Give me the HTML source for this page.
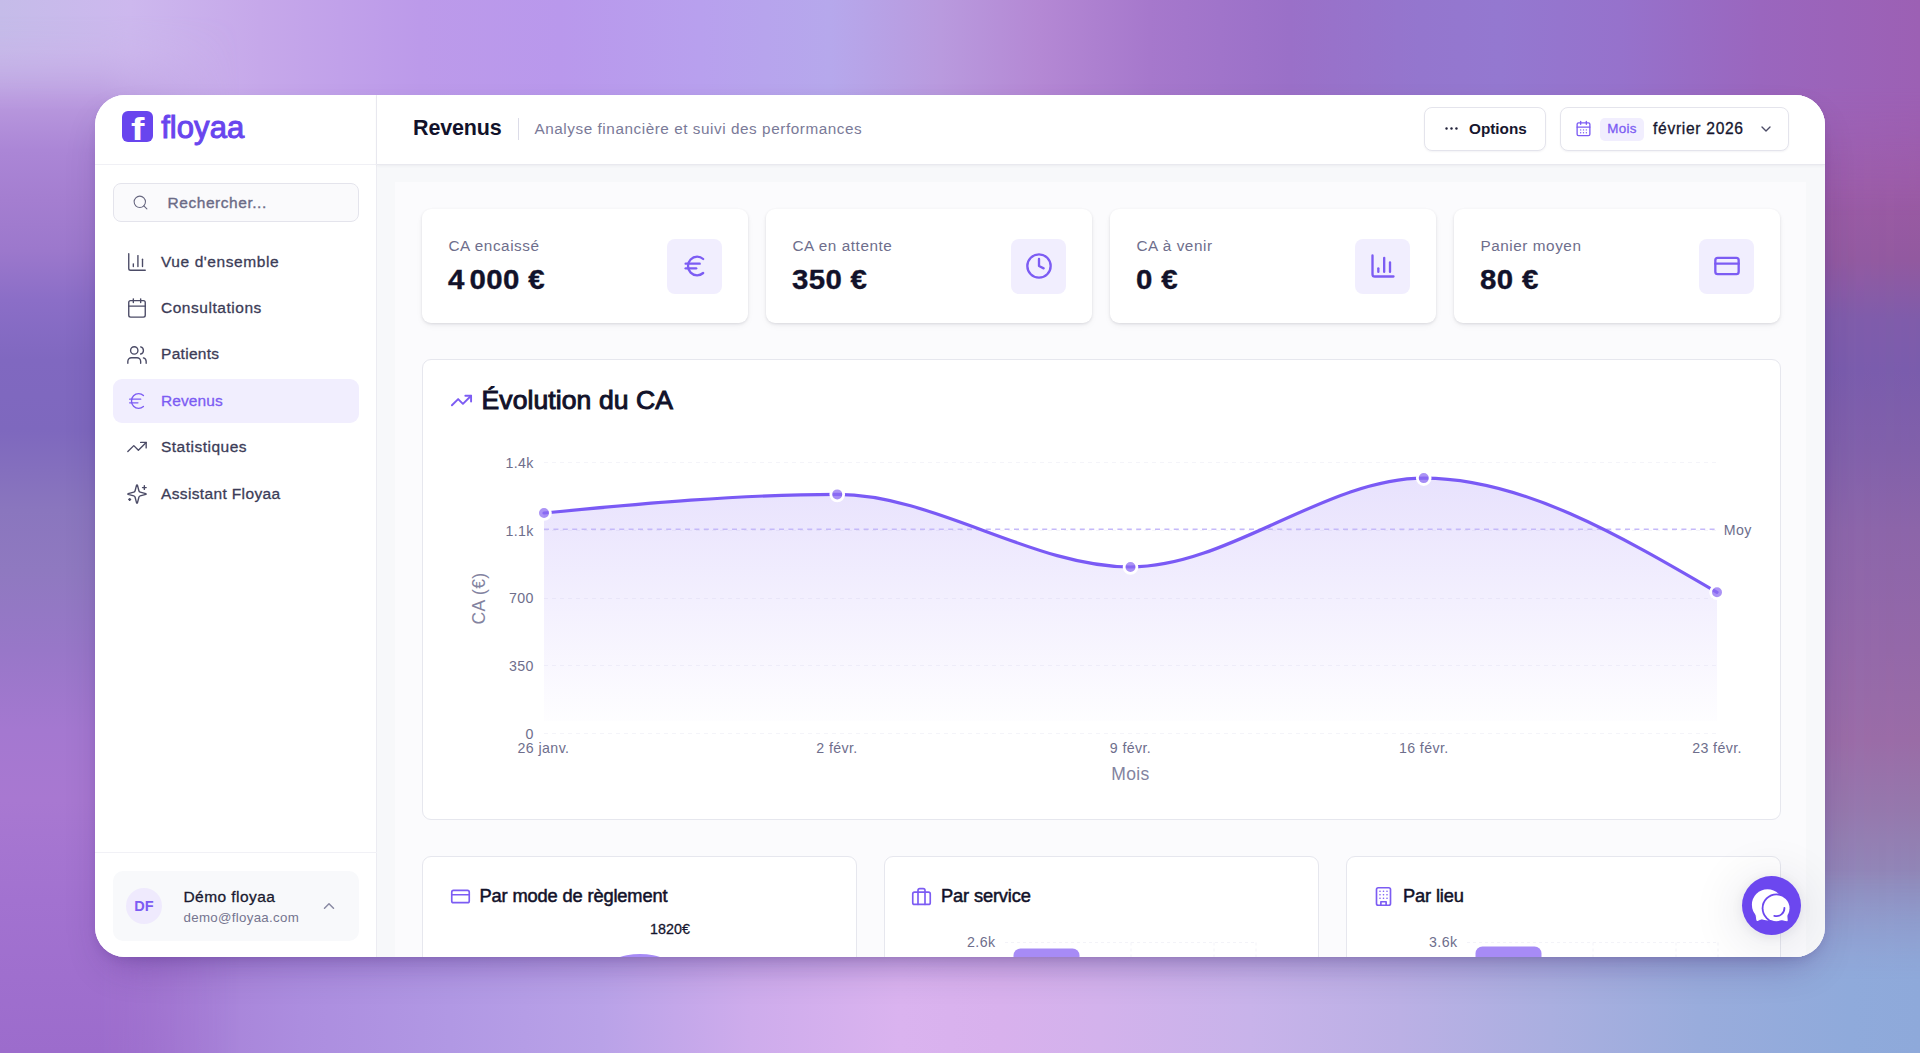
<!DOCTYPE html>
<html lang="fr">
<head>
<meta charset="utf-8">
<title>Revenus – floyaa</title>
<style>
*{box-sizing:border-box;margin:0;padding:0}
html,body{width:1920px;height:1053px;overflow:hidden}
body{position:relative;font-family:"Liberation Sans",sans-serif;color:#14142b;background:#a882d4}
.abs{position:absolute}
.bg{position:absolute;left:0;top:0;width:1920px;height:1053px}
#bgL{background:linear-gradient(180deg,#c4bbe9 0px,#c8b1e8 50px,#b999de 100px,#ab86d6 150px,#a47ed0 200px,#9c78cc 250px,#8b6ec7 300px,#8068c0 360px,#7e68be 430px,#8a76be 510px,#8f79c0 570px,#9877c8 650px,#a478d0 730px,#a878d1 800px,#a272d0 900px,#9c6ccc 1053px)}
#bgL2{background:linear-gradient(180deg,#c4bbe9 0px,#c8b1e8 50px,#b999de 100px,#ab86d6 150px,#a47ed0 200px,#9c78cc 250px,#8b6ec7 300px,#8068c0 360px,#7e68be 430px,#8a76be 510px,#8f79c0 570px,#9877c8 650px,#a478d0 730px,#a878d1 800px,#a272d0 900px,#9c6ccc 1053px);-webkit-mask-image:linear-gradient(90deg,#000 0,#000 100px,transparent 240px),linear-gradient(180deg,transparent 15px,#000 110px);mask-image:linear-gradient(90deg,#000 0,#000 100px,transparent 240px),linear-gradient(180deg,transparent 15px,#000 110px);-webkit-mask-composite:source-in;mask-composite:intersect}
#bgR{background:linear-gradient(180deg,#9c62b6 0px,#9e5cac 80px,#9c5aa4 180px,#92599f 260px,#7f5caa 320px,#7a5cac 370px,#8160aa 450px,#8c65a9 530px,#9468a8 650px,#9a6ca6 740px,#9578ac 810px,#9088b8 880px,#9099c9 960px,#90a8d8 1053px);-webkit-mask-image:linear-gradient(90deg,transparent 0,#000 100%);mask-image:linear-gradient(90deg,transparent 0,#000 100%)}
#bgT{background:linear-gradient(90deg,#c5bce9 0px,#cdb8ee 130px,#c6a8ea 260px,#bc9aea 420px,#b998ec 560px,#b8a0ee 700px,#b6a8ec 830px,#b99ade 940px,#b488d4 1040px,#a678cc 1150px,#9a70c8 1290px,#9476ce 1420px,#9478d0 1500px,#9672cc 1620px,#9a66be 1760px,#9c60b4 1920px);-webkit-mask-image:linear-gradient(180deg,#000 0,#000 85px,transparent 215px);mask-image:linear-gradient(180deg,#000 0,#000 85px,transparent 215px)}
#bgB{background:linear-gradient(90deg,#9c70cc 0px,#a57dd5 150px,#ac8ddf 300px,#b198e4 450px,#b9a2e8 600px,#ceacec 750px,#dab3ef 900px,#d8b1ed 1000px,#d3b2ec 1100px,#c8b3ea 1250px,#bbb0e5 1400px,#aaafe0 1550px,#99acdc 1700px,#8faadb 1850px,#8ea9da 1920px);-webkit-mask-image:linear-gradient(0deg,#000 0,#000 70px,transparent 185px);mask-image:linear-gradient(0deg,#000 0,#000 70px,transparent 185px)}
#win{left:95px;top:95px;width:1730px;height:862px;border-radius:30px;background:#fff;overflow:hidden;box-shadow:0 18px 40px -14px rgba(40,10,90,.3),0 5px 12px -5px rgba(40,10,90,.18)}
#side{left:0;top:0;width:282px;height:862px;background:#fff;border-right:1px solid #ececf2}
#main{left:282px;top:0;width:1448px;height:862px;background:#f7f8fa}
#head{left:0;top:0;width:1448px;height:70px;background:#fff;border-bottom:1px solid #e9e9ef;box-shadow:0 1px 3px rgba(20,20,60,.05)}
.t{position:absolute;white-space:nowrap;line-height:1}
.card{position:absolute;background:#fff;border-radius:9px}
.kpi{box-shadow:0 1px 3px rgba(20,20,40,.11),0 3px 8px -2px rgba(20,20,40,.07)}
.bcard{border:1px solid #e6e7ee}
.ibox{position:absolute;width:55px;height:55px;border-radius:8px;background:#f1eefe}
svg{position:absolute;overflow:visible}
.ic{fill:none;stroke:#4b4b66;stroke-width:1.5;stroke-linecap:round;stroke-linejoin:round}
.icv{fill:none;stroke:#7c5cf3;stroke-width:2;stroke-linecap:round;stroke-linejoin:round}
.nav{font-size:15.5px;color:#3c3c57;-webkit-text-stroke:.3px #3c3c57}
.lab{font-size:15.3px;color:#6e6e8c;letter-spacing:.55px}
.val{font-size:27px;font-weight:700;color:#12122a;letter-spacing:.3px;-webkit-text-stroke:.35px #12122a;transform-origin:0 50%}
.bt{font-size:18.3px;color:#12122a;-webkit-text-stroke:.5px #12122a;letter-spacing:-.15px}
.ax{letter-spacing:.4px;font-size:14.2px;fill:#6e6e8c;font-family:"Liberation Sans",sans-serif}
</style>
</head>
<body>
<div class="bg" id="bgL"></div><div class="bg" id="bgR"></div><div class="bg" id="bgT"></div><div class="bg" id="bgB"></div><div class="bg" id="bgL2"></div>
<div class="abs" id="win">
<div class="abs" id="pc" style="left:-95px;top:-95px;width:1920px;height:1053px">
<div class="abs" id="side" style="left:95px;top:95px"></div>
<div class="abs" style="left:95px;top:164px;width:282px;height:1.2px;background:#f0f0f5"></div>
<!-- logo -->
<div class="abs" style="left:122px;top:111px;width:31px;height:31px;border-radius:6px;background:#6845ee"></div>
<div class="t" id="logof" style="left:130.8px;top:128.7px;transform:translateY(-50%) scaleX(1.3);transform-origin:0 50%;font-size:31px;font-weight:700;color:#fff">f</div>
<div class="t" id="logot" style="left:161.2px;top:127px;transform:translateY(-50%);font-size:31px;color:#6845ee;-webkit-text-stroke:1px #6845ee;letter-spacing:.05px">floyaa</div>
<!-- search -->
<div class="abs" style="left:113px;top:183px;width:246px;height:39px;border-radius:8px;background:#fafafc;border:1px solid #e4e4ec"></div>
<svg class="ic" style="left:132px;top:194px;stroke:#66667f" width="17" height="17" viewBox="0 0 24 24"><circle cx="11" cy="11" r="8"/><path d="m21 21-4.3-4.3"/></svg>
<div class="t" id="srch" style="left:167.5px;top:202.5px;transform:translateY(-50%);font-size:15.5px;color:#6b6b86;-webkit-text-stroke:.35px #6b6b86;letter-spacing:.55px">Rechercher...</div>
<!-- nav -->
<div class="abs" style="left:113px;top:379px;width:246px;height:44px;border-radius:9px;background:#f1eefe"></div>
<svg class="ic" style="left:126.1px;top:251.0px" width="22" height="22" viewBox="0 0 24 24"><path d="M3 3v16a2 2 0 0 0 2 2h16"/><path d="M18 17V9"/><path d="M13 17V5"/><path d="M8 17v-3"/></svg>
<div class="t nav" style="left:161px;top:261.5px;transform:translateY(-50%);letter-spacing:0.58px">Vue d'ensemble</div>
<svg class="ic" style="left:126.1px;top:297.4px" width="22" height="22" viewBox="0 0 24 24"><path d="M8 2v4"/><path d="M16 2v4"/><rect width="18" height="18" x="3" y="4" rx="2"/><path d="M3 10h18"/></svg>
<div class="t nav" style="left:161px;top:308.0px;transform:translateY(-50%);letter-spacing:0.53px">Consultations</div>
<svg class="ic" style="left:126.1px;top:343.8px" width="22" height="22" viewBox="0 0 24 24"><path d="M16 21v-2a4 4 0 0 0-4-4H6a4 4 0 0 0-4 4v2"/><circle cx="9" cy="7" r="4"/><path d="M22 21v-2a4 4 0 0 0-3-3.87"/><path d="M16 3.13a4 4 0 0 1 0 7.75"/></svg>
<div class="t nav" style="left:161px;top:354.4px;transform:translateY(-50%);letter-spacing:0.30px">Patients</div>
<svg class="ic" style="left:126.1px;top:389.6px;stroke:#7c5cf3" width="22" height="22" viewBox="0 0 24 24"><path d="M4 10h12"/><path d="M4 14h9"/><path d="M19 6a7.7 7.7 0 0 0-5.2-2A7.9 7.9 0 0 0 6 12c0 4.400 3.500 8 7.800 8 2 0 3.800-.8 5.200-2"/></svg>
<div class="t nav" style="left:161px;top:400.9px;transform:translateY(-50%);letter-spacing:0.10px;color:#7c5cf3;-webkit-text-stroke:.3px #7c5cf3">Revenus</div>
<svg class="ic" style="left:126.1px;top:436.0px" width="22" height="22" viewBox="0 0 24 24"><polyline points="22 7 13.5 15.5 8.5 10.5 2 17"/><polyline points="16 7 22 7 22 13"/></svg>
<div class="t nav" style="left:161px;top:446.9px;transform:translateY(-50%);letter-spacing:0.49px">Statistiques</div>
<svg class="ic" style="left:126.1px;top:482.6px" width="22" height="22" viewBox="0 0 24 24"><path d="M9.937 15.500A2 2 0 0 0 8.500 14.063l-6.135-1.582a.5.5 0 0 1 0-.962L8.500 9.936A2 2 0 0 0 9.937 8.500l1.582-6.135a.5.5 0 0 1 .963 0L14.063 8.500A2 2 0 0 0 15.500 9.937l6.135 1.581a.5.5 0 0 1 0 .964L15.500 14.063a2 2 0 0 0-1.437 1.437l-1.582 6.135a.5.5 0 0 1-.963 0z"/><path d="M20 3v4"/><path d="M22 5h-4"/><path d="M4 17v2"/><path d="M5 18H3"/></svg>
<div class="t nav" style="left:161px;top:493.5px;transform:translateY(-50%);letter-spacing:0.36px">Assistant Floyaa</div>
<!-- user -->
<div class="abs" style="left:95px;top:852px;width:282px;height:1px;background:#f1f1f6"></div>
<div class="abs" style="left:113px;top:871px;width:246px;height:70px;border-radius:10px;background:#f8f9fb"></div>
<div class="abs" style="left:126px;top:888px;width:36px;height:36px;border-radius:18px;background:#efeafd"></div>
<div class="t" style="left:144px;top:905.8px;transform:translate(-50%,-50%);font-size:14.5px;font-weight:700;color:#7c5cf3">DF</div>
<div class="t" id="uname" style="left:183.5px;top:897px;transform:translateY(-50%);font-size:15.5px;color:#1a1a30;letter-spacing:.43px;-webkit-text-stroke:.3px #1a1a30">Démo floyaa</div>
<div class="t" id="umail" style="left:183.5px;top:917.5px;transform:translateY(-50%);font-size:13.3px;color:#75758f;letter-spacing:.3px">demo@floyaa.com</div>
<svg class="ic" style="left:319.5px;top:896.5px;stroke:#8a8aa3;stroke-width:2" width="18" height="18" viewBox="0 0 24 24"><path d="m18 15-6-6-6 6"/></svg>
<div class="abs" id="main" style="left:377px;top:95px"></div>
<div class="abs" style="left:395px;top:182px;width:1411px;height:800px;background:#fbfbfd"></div>
<div class="abs" id="head" style="left:377px;top:95px"></div>
<!-- header -->
<div class="t" id="h1" style="left:413px;top:129.3px;transform:translateY(-50%);font-size:21.5px;font-weight:700;color:#12122a;letter-spacing:-.15px">Revenus</div>
<div class="abs" style="left:517.5px;top:118px;width:1.5px;height:22px;background:#dcdce8"></div>
<div class="t" id="h2" style="left:534.5px;top:128.5px;transform:translateY(-50%);font-size:15.3px;color:#7a7a98;letter-spacing:.55px">Analyse financière et suivi des performances</div>
<div class="abs" style="left:1424px;top:107px;width:122px;height:44px;border-radius:8px;background:#fff;border:1px solid #e4e4ec;box-shadow:0 1px 2px rgba(20,20,60,.05)"></div>
<svg style="left:1443px;top:120px;fill:#22223a" width="17" height="17" viewBox="0 0 24 24"><circle cx="5" cy="12" r="1.7"/><circle cx="12" cy="12" r="1.7"/><circle cx="19" cy="12" r="1.7"/></svg>
<div class="t" id="opt" style="left:1469px;top:128.5px;transform:translateY(-50%);font-size:15.3px;font-weight:700;color:#16162e;letter-spacing:0">Options</div>
<div class="abs" style="left:1560px;top:107px;width:229px;height:44px;border-radius:8px;background:#fff;border:1px solid #e4e4ec;box-shadow:0 1px 2px rgba(20,20,60,.05)"></div>
<svg class="icv" style="left:1574.5px;top:120px;stroke-width:1.9" width="17" height="17" viewBox="0 0 24 24"><path d="M8 2v4"/><path d="M16 2v4"/><rect width="18" height="18" x="3" y="4" rx="2"/><path d="M3 10h18"/><path d="M8 14h.01"/><path d="M12 14h.01"/><path d="M16 14h.01"/><path d="M8 18h.01"/><path d="M12 18h.01"/><path d="M16 18h.01"/></svg>
<div class="abs" style="left:1600px;top:117.5px;width:44px;height:23px;border-radius:5px;background:#f1eefe"></div>
<div class="t" id="mois" style="left:1622px;top:129px;transform:translate(-50%,-50%);font-size:13.4px;color:#7c5cf3;-webkit-text-stroke:.3px #7c5cf3;letter-spacing:.35px">Mois</div>
<div class="t" id="fev" style="left:1653px;top:128.5px;transform:translateY(-50%);font-size:15.6px;color:#16162e;-webkit-text-stroke:.3px #16162e;letter-spacing:.7px">février 2026</div>
<svg class="ic" style="left:1758px;top:120.5px;stroke:#4b4b66;stroke-width:2" width="16" height="16" viewBox="0 0 24 24"><path d="m6 9 6 6 6-6"/></svg>
<!-- KPI -->
<div class="card kpi" style="left:422px;top:209px;width:326px;height:114px"></div>
<div class="t lab" style="left:448.5px;top:246px;transform:translateY(-50%)">CA encaissé</div>
<div class="t val" id="v1" style="left:448px;top:279.5px;transform:translateY(-50%) scaleX(1.09)">4<span style="margin-left:4.5px">000</span>&nbsp;€</div>
<div class="ibox" style="left:667px;top:238.5px"></div>
<svg class="icv" style="left:680.5px;top:252px" width="28" height="28" viewBox="0 0 24 24"><path d="M4 10h12"/><path d="M4 14h9"/><path d="M19 6a7.7 7.7 0 0 0-5.2-2A7.9 7.9 0 0 0 6 12c0 4.400 3.500 8 7.800 8 2 0 3.800-.8 5.200-2"/></svg>
<div class="card kpi" style="left:766px;top:209px;width:326px;height:114px"></div>
<div class="t lab" style="left:792.5px;top:246px;transform:translateY(-50%)">CA en attente</div>
<div class="t val" id="v2" style="left:792px;top:279.5px;transform:translateY(-50%) scaleX(1.09)">350&nbsp;€</div>
<div class="ibox" style="left:1011px;top:238.5px"></div>
<svg class="icv" style="left:1024.5px;top:252px" width="28" height="28" viewBox="0 0 24 24"><circle cx="12" cy="12" r="10"/><polyline points="12 6 12 12 16 14"/></svg>
<div class="card kpi" style="left:1110px;top:209px;width:326px;height:114px"></div>
<div class="t lab" style="left:1136.5px;top:246px;transform:translateY(-50%)">CA à venir</div>
<div class="t val" id="v3" style="left:1136px;top:279.5px;transform:translateY(-50%) scaleX(1.09)">0&nbsp;€</div>
<div class="ibox" style="left:1355px;top:238.5px"></div>
<svg class="icv" style="left:1368.5px;top:252px" width="28" height="28" viewBox="0 0 24 24"><path d="M3 3v16a2 2 0 0 0 2 2h16"/><path d="M18 17V9"/><path d="M13 17V5"/><path d="M8 17v-3"/></svg>
<div class="card kpi" style="left:1454px;top:209px;width:326px;height:114px"></div>
<div class="t lab" style="left:1480.5px;top:246px;transform:translateY(-50%)">Panier moyen</div>
<div class="t val" id="v4" style="left:1480px;top:279.5px;transform:translateY(-50%) scaleX(1.09)">80&nbsp;€</div>
<div class="ibox" style="left:1699px;top:238.5px"></div>
<svg class="icv" style="left:1712.5px;top:252px" width="28" height="28" viewBox="0 0 24 24"><rect width="20" height="14" x="2" y="5" rx="2"/><line x1="2" x2="22" y1="10" y2="10"/></svg>
<div class="card bcard" style="left:422px;top:359px;width:1358.5px;height:460.5px"></div>
<svg class="icv" style="left:449.5px;top:388.5px;stroke-width:2" width="23" height="23" viewBox="0 0 24 24"><polyline points="22 7 13.500 15.500 8.500 10.500 2 17"/><polyline points="16 7 22 7 22 13"/></svg>
<div class="t" id="ctitle" style="left:481.5px;top:400px;transform:translateY(-50%);font-size:26.5px;color:#12122a;-webkit-text-stroke:1px #12122a;letter-spacing:.1px">Évolution du CA</div>
<svg id="chart" style="left:0;top:0" width="1920" height="1053" viewBox="0 0 1920 1053">
<defs><linearGradient id="ag" x1="0" y1="478" x2="0" y2="722" gradientUnits="userSpaceOnUse"><stop offset="0" stop-color="#8b6cf6" stop-opacity=".2"/><stop offset=".5" stop-color="#8b6cf6" stop-opacity=".105"/><stop offset="1" stop-color="#8b6cf6" stop-opacity=".01"/></linearGradient></defs>
<g stroke="#f4f4f9" stroke-width="1" stroke-dasharray="4 4" fill="none"><path d="M544 462.500H1717"/><path d="M544 530.500H1717"/><path d="M544 598.500H1717"/><path d="M544 665.500H1717"/><path d="M544 733.500H1717"/></g>
<path d="M544.00,513.00C641.75,503.70,739.50,494.40,837.25,494.40C935.00,494.40,1032.75,567.00,1130.50,567.00C1228.25,567.00,1326.00,478.10,1423.75,478.10C1521.50,478.10,1619.25,535.20,1717.00,592.30V721H544Z" fill="url(#ag)"/>
<path d="M544 529.200H1717" stroke="#c5b9f9" stroke-width="1.5" stroke-dasharray="5 4.400" fill="none"/>
<path d="M544.00,513.00C641.75,503.70,739.50,494.40,837.25,494.40C935.00,494.40,1032.75,567.00,1130.50,567.00C1228.25,567.00,1326.00,478.10,1423.75,478.10C1521.50,478.10,1619.25,535.20,1717.00,592.30" fill="none" stroke="#7a5af5" stroke-width="3.200" stroke-linecap="round"/>
<g fill="#8f6ff2" fill-opacity=".75" stroke="#fff" stroke-width="2.800"><circle cx="544" cy="513" r="6.400"/><circle cx="837.250" cy="494.400" r="6.400"/><circle cx="1130.500" cy="567" r="6.400"/><circle cx="1423.750" cy="478.100" r="6.400"/><circle cx="1717" cy="592.300" r="6.400"/></g>
<g class="ax" text-anchor="end"><text x="533.800" y="468">1.4k</text><text x="533.800" y="535.500">1.1k</text><text x="533.800" y="603">700</text><text x="533.800" y="670.500">350</text><text x="533.800" y="738.500">0</text></g>
<g class="ax" text-anchor="middle"><text x="543.500" y="753">26 janv.</text><text x="837" y="753">2 févr.</text><text x="1130.500" y="753">9 févr.</text><text x="1423.750" y="753">16 févr.</text><text x="1717" y="753">23 févr.</text></g>
<text class="ax" x="1723.800" y="534.500">Moy</text>
<text class="ax" x="1130.500" y="780" text-anchor="middle" style="font-size:17.5px;fill:#8383a0">Mois</text>
<text class="ax" transform="translate(485,598.500) rotate(-90)" text-anchor="middle" style="font-size:17.5px;fill:#8383a0">CA (€)</text>
</svg>

<div class="card bcard" style="left:422px;top:855.5px;width:434.5px;height:140px"></div>
<div class="card bcard" style="left:884px;top:855.5px;width:434.5px;height:140px"></div>
<div class="card bcard" style="left:1346px;top:855.5px;width:434.5px;height:140px"></div>
<svg class="icv" style="left:449.5px;top:886px;stroke-width:1.9" width="21" height="21" viewBox="0 0 24 24"><rect width="20" height="14" x="2" y="5" rx="2"/><line x1="2" x2="22" y1="10" y2="10"/></svg>
<div class="t bt" style="left:479.5px;top:895.8px;transform:translateY(-50%)">Par mode de règlement</div>
<svg class="icv" style="left:911px;top:885.5px;stroke-width:1.9" width="21" height="21" viewBox="0 0 24 24"><rect width="20" height="14" x="2" y="7" rx="2" ry="2"/><path d="M16 21V5a2 2 0 0 0-2-2h-4a2 2 0 0 0-2 2v16"/></svg>
<div class="t bt" style="left:941px;top:895.8px;transform:translateY(-50%)">Par service</div>
<svg class="icv" style="left:1373px;top:886px;stroke-width:1.9" width="21" height="21" viewBox="0 0 24 24"><rect width="16" height="20" x="4" y="2" rx="2" ry="2"/><path d="M9 22v-4h6v4"/><path d="M8 6h.01"/><path d="M16 6h.01"/><path d="M12 6h.01"/><path d="M12 10h.01"/><path d="M12 14h.01"/><path d="M16 10h.01"/><path d="M16 14h.01"/><path d="M8 10h.01"/><path d="M8 14h.01"/></svg>
<div class="t bt" style="left:1403px;top:895.8px;transform:translateY(-50%)">Par lieu</div>
<div class="t" id="p1820" style="left:670px;top:928.6px;transform:translate(-50%,-50%);font-size:14.3px;color:#16162e;-webkit-text-stroke:.3px #16162e">1820€</div>
<div class="abs" style="left:572px;top:954.3px;width:136px;height:136px;border-radius:68px;background:#a78bf6"></div>
<svg style="left:0;top:0" width="1920" height="1053" viewBox="0 0 1920 1053">
<g stroke="#f3f3f8" stroke-width="1" stroke-dasharray="3 3" fill="none"><path d="M1005 942.500H1256"/><path d="M1131 942.500V960"/><path d="M1214 942.500V960"/><path d="M1256 942.500V960"/><path d="M1467 942.500H1718"/><path d="M1593 942.500V960"/><path d="M1676 942.500V960"/><path d="M1718 942.500V960"/></g>
<rect x="1013.500" y="948.500" width="66" height="30" rx="7" fill="#a78bf6"/>
<rect x="1475.500" y="946.500" width="66" height="30" rx="7" fill="#a78bf6"/>
<g class="ax" text-anchor="end"><text x="995.500" y="947">2.6k</text><text x="1457.500" y="947">3.6k</text></g>
</svg>
<!-- chat -->

<div class="abs" style="left:1741.8px;top:875.8px;width:59px;height:59px;border-radius:30px;background:#6c47ef;box-shadow:0 6px 45px 12px rgba(20,20,50,.07),0 2px 12px rgba(20,20,50,.08)"></div>
<svg style="left:1741.800px;top:875.800px" width="59" height="59" viewBox="0 0 59 59"><circle cx="25.500" cy="28.800" r="15.600" fill="#fff"/><path d="M13.800 37.500l1.200 7.200 6.200-2.600z" fill="#fff" stroke="#fff" stroke-width="1" stroke-linejoin="round"/><circle cx="34.500" cy="32.200" r="14.800" fill="#6c47ef"/><circle cx="34.500" cy="32.200" r="13" fill="#fff"/><path d="M44.800 38.500l.4 6.300-6.200-1.300z" fill="#fff" stroke="#fff" stroke-width="1" stroke-linejoin="round"/><path d="M42.400 31.800A7.900 7.900 0 0 1 32.300 39.800" fill="none" stroke="#6c47ef" stroke-width="1.800" stroke-linecap="round"/></svg>

<!--PCEND-->
</div>

</div>
</body>
</html>
